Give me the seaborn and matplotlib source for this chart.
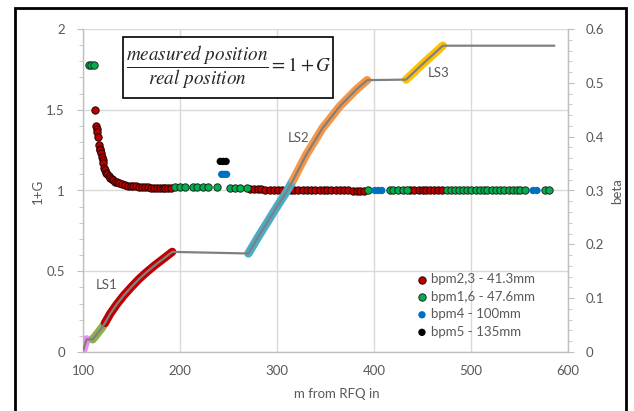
import matplotlib
matplotlib.use("Agg")
import matplotlib.pyplot as plt
from matplotlib.patches import Rectangle
from matplotlib.ticker import MultipleLocator, FuncFormatter
import seaborn as sns

# ---- BPM gain measurements (1+G) vs. position ----
bpm23_x = [112.5, 113.3, 114.0, 114.7, 115.3, 116.5, 117.3, 118.0, 118.8, 119.5,
           120.3, 121.0, 122.0, 122.8, 123.8, 125.0, 126.5, 128.0, 129.5, 131.0,
           133.0, 135.0, 137.5, 140.0, 143.0, 146.0, 149.0, 152.0, 155.0, 158.0,
           161.0, 164.0, 167.0, 170.0, 173.0, 176.0, 179.0, 182.0, 185.0, 188.0,
           191.0,
           272, 276, 280, 284, 288, 293, 297, 301, 305, 310, 314, 318, 322, 327,
           331, 335, 339, 344, 348, 352, 356, 361, 365, 369, 373, 378, 382, 386, 390,
           437, 441, 446, 450, 454, 458, 462, 466, 470]
bpm23_y = [1.50, 1.40, 1.38, 1.36, 1.33, 1.28, 1.26, 1.25, 1.23, 1.21,
           1.19, 1.17, 1.14, 1.13, 1.11, 1.10, 1.09, 1.08, 1.07, 1.065,
           1.055, 1.05, 1.045, 1.04, 1.035, 1.03, 1.03, 1.025, 1.025, 1.02,
           1.02, 1.02, 1.02, 1.015, 1.015, 1.015, 1.015, 1.015, 1.015, 1.015,
           1.015,
           1.008, 1.008, 1.007, 1.007, 1.006, 1.006, 1.005, 1.005, 1.004, 1.004,
           1.003, 1.003, 1.003, 1.002, 1.002, 1.002, 1.001, 1.001, 1.001, 1.0,
           1.0, 1.0, 1.0, 1.0, 1.0, 0.998, 0.998, 0.997, 0.997,
           1.0, 1.0, 1.0, 1.0, 1.0, 1.0, 1.0, 1.0, 1.0]

bpm16_x = [106.0, 108.5, 111.0,
           195, 200, 205, 213, 218, 224, 229, 238, 251.5, 256.7, 262, 269,
           394, 416, 420, 425, 430, 434,
           475, 479, 483, 488, 492, 496, 500, 505, 509, 513, 517, 522, 526, 530,
           534, 539, 543, 547, 551, 556, 576, 580]
bpm16_y = [1.78, 1.78, 1.78,
           1.02, 1.02, 1.02, 1.02, 1.02, 1.02, 1.02, 1.02, 1.018, 1.018, 1.015, 1.015,
           1.0, 1.0, 1.0, 1.0, 1.0, 1.0,
           1.0, 1.0, 1.0, 1.0, 1.0, 1.0, 1.0, 1.0, 1.0, 1.0, 1.0, 1.0, 1.0, 1.0,
           1.0, 1.0, 1.0, 1.0, 1.0, 1.0, 1.0, 1.0]

bpm4_x = [243.0, 245.5, 248.0, 401.0, 404.5, 408.0, 564.0, 568.0]
bpm4_y = [1.10, 1.10, 1.10, 1.0, 1.0, 1.0, 1.0, 1.0]

bpm5_x = [241.5, 244.5, 247.5]
bpm5_y = [1.18, 1.18, 1.18]

# ---- beta along the line, by section ----
pink_x = [100.3, 102.0, 103.8]
pink_b = [0.004, 0.014, 0.0235]
green_x = [110.0, 113.0, 116.0, 119.5, 122.7]
green_b = [0.0235, 0.030, 0.037, 0.045, 0.054]
ls1_x = [122.7, 128, 135, 142, 150, 158, 166, 174, 182, 192]
ls1_b = [0.054, 0.071, 0.089, 0.105, 0.121, 0.136, 0.149, 0.161, 0.172, 0.186]
ls2a_x = [270.5, 280, 290, 300, 310, 316.5]
ls2a_b = [0.183, 0.212, 0.241, 0.270, 0.298, 0.319]
ls2b_x = [316.5, 330, 347, 365, 382, 393]
ls2b_b = [0.319, 0.366, 0.416, 0.457, 0.488, 0.505]
ls3_x = [433, 452, 471]
ls3_b = [0.506, 0.538, 0.569]
tail_x = [586]
tail_b = [0.569]

sections = [
    (pink_x, pink_b, "#f08cf0"),
    (green_x, green_b, "#8fb04c"),
    (ls1_x, ls1_b, "#c00000"),
    (ls2a_x, ls2a_b, "#4bacc6"),
    (ls2b_x, ls2b_b, "#f79646"),
    (ls3_x, ls3_b, "#ffc000"),
]

sns.set_style("white")
plt.rcParams["font.family"] = ["Lato", "DejaVu Sans"]
plt.rcParams["mathtext.fontset"] = "stix"

TXT = "#595959"
AXC = "#bfbfbf"
GRID = "#d9d9d9"
FS = 9.5
fmt = FuncFormatter(lambda v, p: f"{v:g}")

W, H = 634, 411
fig = plt.figure(figsize=(W / 100, H / 100), dpi=100)
ax = fig.add_axes([83 / W, 59 / H, 485 / W, 323 / H])

# BPM scatter series
sns.scatterplot(x=bpm23_x, y=bpm23_y, ax=ax, color="#b80000", s=28,
                edgecolor="#2a0000", linewidth=0.7, label="bpm2,3 - 41.3mm", zorder=3)
sns.scatterplot(x=bpm16_x, y=bpm16_y, ax=ax, color="#00b050", s=28,
                edgecolor="#1a2a1a", linewidth=0.7, label="bpm1,6 - 47.6mm", zorder=3)
sns.scatterplot(x=bpm4_x, y=bpm4_y, ax=ax, color="#0070c0", s=28,
                edgecolor="none", linewidth=0, label="bpm4 - 100mm", zorder=3)
sns.scatterplot(x=bpm5_x, y=bpm5_y, ax=ax, color="#000000", s=28,
                edgecolor="none", linewidth=0, label="bpm5 - 135mm", zorder=3)

ax.set_xlim(100, 600)
ax.set_ylim(0, 2)
ax.xaxis.set_major_locator(MultipleLocator(100))
ax.xaxis.set_minor_locator(MultipleLocator(20))
ax.yaxis.set_major_locator(MultipleLocator(0.5))
ax.yaxis.set_minor_locator(MultipleLocator(0.1))
ax.yaxis.set_major_formatter(fmt)
ax.grid(True, which="major", color=GRID, lw=1.0)
ax.set_axisbelow(True)

for s in ["top", "right"]:
    ax.spines[s].set_visible(False)
for s in ["left", "bottom"]:
    ax.spines[s].set_color(AXC)
    ax.spines[s].set_linewidth(1.0)
ax.tick_params(axis="both", which="both", direction="out", colors=AXC,
               labelcolor=TXT, labelsize=FS)
ax.tick_params(axis="x", which="major", length=4, pad=5)
ax.tick_params(axis="x", which="minor", length=4)
ax.tick_params(axis="y", which="major", length=4, pad=9)
ax.tick_params(axis="y", which="minor", length=3)

leg = ax.legend(loc="center left", bbox_to_anchor=(0.688, 0.144), frameon=False,
                fontsize=FS, handlelength=0.8, handletextpad=0.25, labelspacing=0.42,
                borderpad=0, borderaxespad=0)
for t in leg.get_texts():
    t.set_color(TXT)

# beta on the secondary axis
ax2 = ax.twinx()
for xs, bs, col in sections:
    sns.lineplot(x=xs, y=bs, ax=ax2, color=col, lw=6, estimator=None, sort=False,
                 solid_capstyle="round", legend=False)

line_x = pink_x + green_x + ls1_x + ls2a_x + ls2b_x + ls3_x + tail_x
line_b = pink_b + green_b + ls1_b + ls2a_b + ls2b_b + ls3_b + tail_b
sns.lineplot(x=line_x, y=line_b, ax=ax2, color="#808080", lw=1.6, estimator=None,
             sort=False, legend=False)
ax2.set_ylabel("")
ax2.set_xlim(100, 600)
ax2.set_ylim(0, 0.6)
ax2.yaxis.set_major_locator(MultipleLocator(0.1))
ax2.yaxis.set_minor_locator(MultipleLocator(0.02))
ax2.yaxis.set_major_formatter(fmt)
for s in ["top", "left", "bottom"]:
    ax2.spines[s].set_visible(False)
ax2.spines["right"].set_color(AXC)
ax2.spines["right"].set_linewidth(1.0)
ax2.tick_params(axis="y", which="both", direction="out", colors=AXC,
                labelcolor=TXT, labelsize=FS)
ax2.tick_params(axis="y", which="major", length=4, pad=9)
ax2.tick_params(axis="y", which="minor", length=3)

# section labels
ax.text(124.4, 0.414, "LS1", color=TXT, fontsize=9.5, ha="center", va="center")
ax.text(322, 1.324, "LS2", color=TXT, fontsize=9.5, ha="center", va="center")
ax.text(466.3, 1.725, "LS3", color=TXT, fontsize=9.5, ha="center", va="center")

# axis titles
fig.text(38 / W, 1 - 191 / H, "1+G", rotation=90, ha="center", va="center",
         color=TXT, fontsize=FS)
fig.text(617 / W, 1 - 191 / H, "beta", rotation=90, ha="center", va="center",
         color=TXT, fontsize=FS)
fig.text(337 / W, 1 - 394 / H, "m from RFQ in", ha="center", va="center",
         color=TXT, fontsize=FS)

# formula box
fig.patches.append(Rectangle((123 / W, 1 - 98 / H), 210 / W, 61 / H,
                             transform=fig.transFigure, fc="white", ec="black",
                             lw=1.2, zorder=5))
fig.text(229 / W, 1 - 67 / H,
         r"$\dfrac{measured\ position}{real\ position}=1+G$",
         ha="center", va="center", fontsize=13.8, color="#262626", zorder=6)

# chart border
fig.patches.append(Rectangle((15 / W, -20 / H), 611 / W, (H - 8 + 20) / H,
                             transform=fig.transFigure, fc="none", ec="black",
                             lw=2, clip_on=False, zorder=10))

fig.savefig("out.png", dpi=100)
